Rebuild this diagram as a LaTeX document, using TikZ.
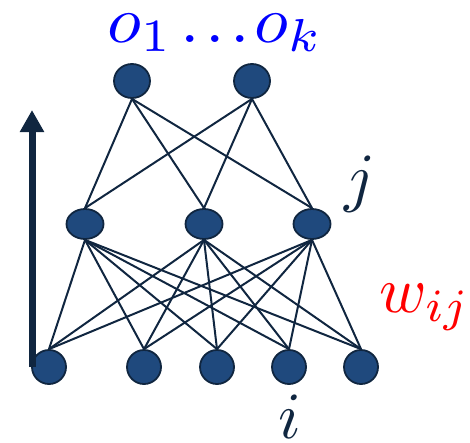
\documentclass[tikz,border=0pt]{standalone}
\usepackage{graphicx}
\usetikzlibrary{shapes.geometric,arrows.meta}
\definecolor{nodefill}{RGB}{31,73,125}
\definecolor{navy}{RGB}{16,38,64}
\begin{document}
\begin{tikzpicture}[x=1pt,y=-1pt,
  neuron/.style={ellipse,draw=navy,line width=1.8pt,fill=nodefill,inner sep=0pt},
  topn/.style={neuron,minimum width=36pt,minimum height=34pt},
  midn/.style={neuron,minimum width=37pt,minimum height=30pt},
  botn/.style={neuron,minimum width=34pt,minimum height=34pt},
  conn/.style={draw=navy,line width=2pt},
  big/.style={inner sep=0pt}]
\useasboundingbox (0,0) rectangle (470,442);
% nodes
\node[topn] (t1) at (132,81) {};
\node[topn] (t2) at (252,81) {};
\node[midn] (m1) at (85,224) {};
\node[midn] (m2) at (204,224) {};
\node[midn] (m3) at (312,224) {};
\node[botn] (b1) at (49,367) {};
\node[botn] (b2) at (144,367) {};
\node[botn] (b3) at (217,367) {};
\node[botn] (b4) at (289,367) {};
\node[botn] (b5) at (361,367) {};
% connectors
\foreach \t in {t1,t2}
  \foreach \m in {m1,m2,m3}
    \draw[conn] (\t.south) -- (\m.north);
\foreach \m in {m1,m2,m3}
  \foreach \b in {b1,b2,b3,b4,b5}
    \draw[conn] (\m.south) -- (\b.north);
% arrow
\coordinate (abot) at (32,367);
\coordinate (atop) at (32,110);
\draw[navy,line width=7pt,-{Triangle[width=23pt,length=22pt]}] (abot) -- (atop);
% labels
\node[big,anchor=base west,text=blue] (out) at (107,42) {\scalebox{7}[6.6]{$o_1\mkern2mu.\mkern1.5mu.\mkern1.5mu.\mkern1mu o_k$}};
\node[big,anchor=base,text=navy] (lj) at (360,199) {\scalebox{6.6}{$j$}};
\node[big,anchor=base west,text=red] (lw) at (379,312) {\scalebox{6.4}[6.6]{$w_{ij}$}};
\node[big,anchor=base,text=navy] (li) at (290,438) {\scalebox{6.6}{$i$}};
\end{tikzpicture}
\end{document}
